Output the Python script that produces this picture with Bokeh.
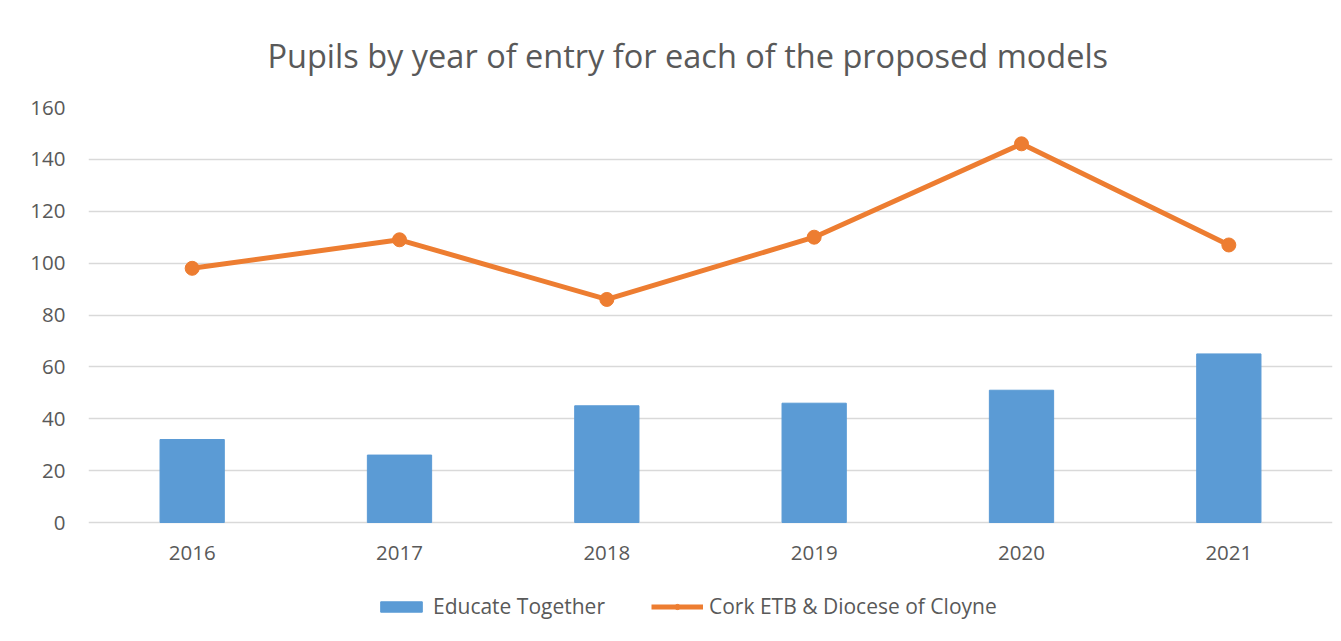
from bokeh.plotting import figure
from bokeh.models import (Range1d, FixedTicker, Legend, LegendItem, Title)
from bokeh.embed import file_html
from bokeh.resources import INLINE

years = ["2016", "2017", "2018", "2019", "2020", "2021"]
educate_together = [32, 26, 45, 46, 51, 65]
cork_etb_cloyne = [98, 109, 86, 110, 146, 107]
y_ticks = [0, 20, 40, 60, 80, 100, 120, 140, 160]
title_text = "Pupils by year of entry for each of the proposed models"
series_names = ["Educate Together", "Cork ETB & Diocese of Cloyne"]

TEXT = "#595959"
FONT = "Open Sans"

# layout (pixels): value axis 0..160 spans 415 px; 119 px below zero hold the
# category labels and the legend
AXIS_PX = 415
BELOW_PX = 119
y_start = -BELOW_PX * (y_ticks[-1] - y_ticks[0]) / AXIS_PX

p = figure(x_range=years, y_range=Range1d(y_start, y_ticks[-1]),
           frame_width=1244, frame_height=AXIS_PX + BELOW_PX,
           output_backend="svg", toolbar_location=None,
           min_border_left=88, min_border_right=9, min_border_top=107,
           min_border_bottom=0)

p.title = Title(text=title_text, align="left", text_font=FONT,
                text_font_size="32.5px", text_font_style="normal",
                text_color=TEXT, standoff=59, offset=179)

bars = p.vbar(x=years, top=educate_together, width=0.31, color="#5B9BD5")
line = p.line(x=years, y=cork_etb_cloyne, line_color="#ED7D31", line_width=5)
dots = p.scatter(x=years, y=cork_etb_cloyne, size=14, color="#ED7D31")

p.yaxis.ticker = FixedTicker(ticks=y_ticks)
p.ygrid.grid_line_color = "#D9D9D9"
p.ygrid.grid_line_width = 1.3
p.xgrid.grid_line_color = None
p.outline_line_color = None

for ax in (p.xaxis, p.yaxis):
    ax.axis_line_color = None
    ax.major_tick_line_color = None
    ax.minor_tick_line_color = None
    ax.major_label_text_font = FONT
    ax.major_label_text_font_size = "20.5px"
    ax.major_label_text_color = TEXT
p.yaxis.major_label_standoff = 17
p.xaxis.major_label_standoff = 17
p.xaxis.fixed_location = 0

legend = Legend(items=[LegendItem(label=series_names[0], renderers=[bars]),
                       LegendItem(label=series_names[1], renderers=[line, dots])],
                orientation="horizontal", location=(287, 21),
                label_text_font=FONT, label_text_font_size="21px",
                label_text_color=TEXT, glyph_width=52, glyph_height=13,
                spacing=46, label_standoff=6, border_line_color=None,
                background_fill_alpha=0, padding=6, margin=0)
p.add_layout(legend, "center")

open("out.html", "w").write(file_html(p, INLINE))
